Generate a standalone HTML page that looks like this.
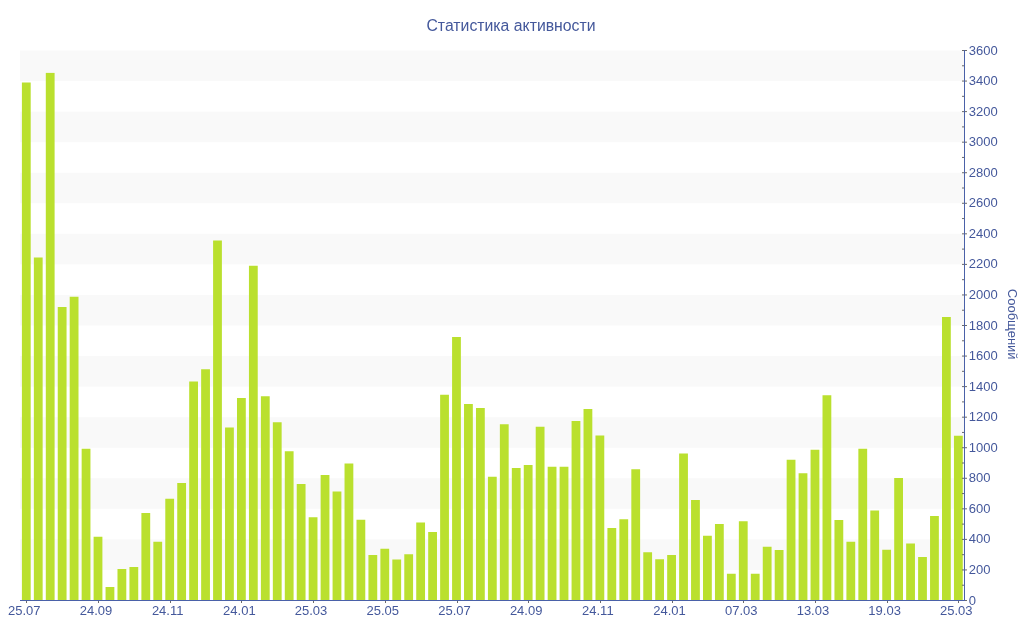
<!DOCTYPE html>
<html lang="ru"><head><meta charset="utf-8"><title>Статистика активности</title>
<style>html,body{margin:0;padding:0;background:#fff;}body{width:1024px;height:640px;overflow:hidden;}svg{display:block;}text{font-family:"Liberation Sans",sans-serif;fill:#44589b;}.t{font-size:15.8px;}.l{font-size:13px;}</style></head><body>
<svg width="1024" height="640" viewBox="0 0 1024 640">
<rect width="1024" height="640" fill="#fff"/>
<g fill="#f9f9f9">
<rect x="20" y="50.50" width="944" height="30.56"/>
<rect x="20" y="111.61" width="944" height="30.56"/>
<rect x="20" y="172.72" width="944" height="30.56"/>
<rect x="20" y="233.83" width="944" height="30.56"/>
<rect x="20" y="294.94" width="944" height="30.56"/>
<rect x="20" y="356.06" width="944" height="30.56"/>
<rect x="20" y="417.17" width="944" height="30.56"/>
<rect x="20" y="478.28" width="944" height="30.56"/>
<rect x="20" y="539.39" width="944" height="30.56"/>
</g>
<g fill="#bae02e">
<rect x="21.90" y="82.50" width="8.8" height="517.50"/>
<rect x="33.85" y="257.50" width="8.8" height="342.50"/>
<rect x="45.80" y="72.90" width="8.8" height="527.10"/>
<rect x="57.75" y="307.00" width="8.8" height="293.00"/>
<rect x="69.70" y="296.75" width="8.8" height="303.25"/>
<rect x="81.65" y="448.75" width="8.8" height="151.25"/>
<rect x="93.60" y="536.75" width="8.8" height="63.25"/>
<rect x="105.55" y="587.00" width="8.8" height="13.00"/>
<rect x="117.49" y="569.00" width="8.8" height="31.00"/>
<rect x="129.44" y="567.00" width="8.8" height="33.00"/>
<rect x="141.39" y="513.00" width="8.8" height="87.00"/>
<rect x="153.34" y="541.75" width="8.8" height="58.25"/>
<rect x="165.29" y="498.75" width="8.8" height="101.25"/>
<rect x="177.24" y="483.00" width="8.8" height="117.00"/>
<rect x="189.19" y="381.50" width="8.8" height="218.50"/>
<rect x="201.14" y="369.25" width="8.8" height="230.75"/>
<rect x="213.09" y="240.50" width="8.8" height="359.50"/>
<rect x="225.04" y="427.50" width="8.8" height="172.50"/>
<rect x="236.99" y="398.00" width="8.8" height="202.00"/>
<rect x="248.94" y="265.75" width="8.8" height="334.25"/>
<rect x="260.89" y="396.25" width="8.8" height="203.75"/>
<rect x="272.84" y="422.25" width="8.8" height="177.75"/>
<rect x="284.79" y="451.25" width="8.8" height="148.75"/>
<rect x="296.74" y="484.00" width="8.8" height="116.00"/>
<rect x="308.68" y="517.25" width="8.8" height="82.75"/>
<rect x="320.63" y="475.00" width="8.8" height="125.00"/>
<rect x="332.58" y="491.50" width="8.8" height="108.50"/>
<rect x="344.53" y="463.50" width="8.8" height="136.50"/>
<rect x="356.48" y="519.75" width="8.8" height="80.25"/>
<rect x="368.43" y="555.00" width="8.8" height="45.00"/>
<rect x="380.38" y="548.75" width="8.8" height="51.25"/>
<rect x="392.33" y="559.50" width="8.8" height="40.50"/>
<rect x="404.28" y="554.25" width="8.8" height="45.75"/>
<rect x="416.23" y="522.50" width="8.8" height="77.50"/>
<rect x="428.18" y="532.00" width="8.8" height="68.00"/>
<rect x="440.13" y="394.75" width="8.8" height="205.25"/>
<rect x="452.08" y="337.00" width="8.8" height="263.00"/>
<rect x="464.03" y="404.00" width="8.8" height="196.00"/>
<rect x="475.98" y="408.00" width="8.8" height="192.00"/>
<rect x="487.93" y="476.75" width="8.8" height="123.25"/>
<rect x="499.87" y="424.25" width="8.8" height="175.75"/>
<rect x="511.82" y="468.00" width="8.8" height="132.00"/>
<rect x="523.77" y="465.00" width="8.8" height="135.00"/>
<rect x="535.72" y="426.75" width="8.8" height="173.25"/>
<rect x="547.67" y="466.75" width="8.8" height="133.25"/>
<rect x="559.62" y="466.75" width="8.8" height="133.25"/>
<rect x="571.57" y="421.00" width="8.8" height="179.00"/>
<rect x="583.52" y="409.00" width="8.8" height="191.00"/>
<rect x="595.47" y="435.50" width="8.8" height="164.50"/>
<rect x="607.42" y="528.00" width="8.8" height="72.00"/>
<rect x="619.37" y="519.25" width="8.8" height="80.75"/>
<rect x="631.32" y="469.25" width="8.8" height="130.75"/>
<rect x="643.27" y="552.25" width="8.8" height="47.75"/>
<rect x="655.22" y="559.25" width="8.8" height="40.75"/>
<rect x="667.17" y="555.00" width="8.8" height="45.00"/>
<rect x="679.12" y="453.50" width="8.8" height="146.50"/>
<rect x="691.06" y="500.00" width="8.8" height="100.00"/>
<rect x="703.01" y="535.75" width="8.8" height="64.25"/>
<rect x="714.96" y="524.00" width="8.8" height="76.00"/>
<rect x="726.91" y="573.75" width="8.8" height="26.25"/>
<rect x="738.86" y="521.25" width="8.8" height="78.75"/>
<rect x="750.81" y="573.75" width="8.8" height="26.25"/>
<rect x="762.76" y="546.75" width="8.8" height="53.25"/>
<rect x="774.71" y="550.00" width="8.8" height="50.00"/>
<rect x="786.66" y="459.75" width="8.8" height="140.25"/>
<rect x="798.61" y="473.25" width="8.8" height="126.75"/>
<rect x="810.56" y="449.75" width="8.8" height="150.25"/>
<rect x="822.51" y="395.25" width="8.8" height="204.75"/>
<rect x="834.46" y="520.00" width="8.8" height="80.00"/>
<rect x="846.41" y="541.75" width="8.8" height="58.25"/>
<rect x="858.36" y="448.75" width="8.8" height="151.25"/>
<rect x="870.31" y="510.50" width="8.8" height="89.50"/>
<rect x="882.25" y="549.75" width="8.8" height="50.25"/>
<rect x="894.20" y="478.00" width="8.8" height="122.00"/>
<rect x="906.15" y="543.50" width="8.8" height="56.50"/>
<rect x="918.10" y="557.00" width="8.8" height="43.00"/>
<rect x="930.05" y="516.00" width="8.8" height="84.00"/>
<rect x="942.00" y="317.00" width="8.8" height="283.00"/>
<rect x="953.95" y="435.75" width="8.8" height="164.25"/>
</g>
<g fill="#6a6a6a">
<rect x="26.0" y="600" width="1" height="3"/>
<rect x="98.0" y="600" width="1" height="3"/>
<rect x="170.0" y="600" width="1" height="3"/>
<rect x="241.0" y="600" width="1" height="3"/>
<rect x="313.0" y="600" width="1" height="3"/>
<rect x="385.0" y="600" width="1" height="3"/>
<rect x="457.0" y="600" width="1" height="3"/>
<rect x="528.0" y="600" width="1" height="3"/>
<rect x="600.0" y="600" width="1" height="3"/>
<rect x="672.0" y="600" width="1" height="3"/>
<rect x="743.0" y="600" width="1" height="3"/>
<rect x="815.0" y="600" width="1" height="3"/>
<rect x="887.0" y="600" width="1" height="3"/>
<rect x="958.0" y="600" width="1" height="3"/>
<rect x="962" y="600.00" width="5" height="1"/>
<rect x="962" y="584.72" width="2" height="1"/>
<rect x="962" y="569.44" width="5" height="1"/>
<rect x="962" y="554.17" width="2" height="1"/>
<rect x="962" y="538.89" width="5" height="1"/>
<rect x="962" y="523.61" width="2" height="1"/>
<rect x="962" y="508.33" width="5" height="1"/>
<rect x="962" y="493.06" width="2" height="1"/>
<rect x="962" y="477.78" width="5" height="1"/>
<rect x="962" y="462.50" width="2" height="1"/>
<rect x="962" y="447.22" width="5" height="1"/>
<rect x="962" y="431.94" width="2" height="1"/>
<rect x="962" y="416.67" width="5" height="1"/>
<rect x="962" y="401.39" width="2" height="1"/>
<rect x="962" y="386.11" width="5" height="1"/>
<rect x="962" y="370.83" width="2" height="1"/>
<rect x="962" y="355.56" width="5" height="1"/>
<rect x="962" y="340.28" width="2" height="1"/>
<rect x="962" y="325.00" width="5" height="1"/>
<rect x="962" y="309.72" width="2" height="1"/>
<rect x="962" y="294.44" width="5" height="1"/>
<rect x="962" y="279.17" width="2" height="1"/>
<rect x="962" y="263.89" width="5" height="1"/>
<rect x="962" y="248.61" width="2" height="1"/>
<rect x="962" y="233.33" width="5" height="1"/>
<rect x="962" y="218.06" width="2" height="1"/>
<rect x="962" y="202.78" width="5" height="1"/>
<rect x="962" y="187.50" width="2" height="1"/>
<rect x="962" y="172.22" width="5" height="1"/>
<rect x="962" y="156.94" width="2" height="1"/>
<rect x="962" y="141.67" width="5" height="1"/>
<rect x="962" y="126.39" width="2" height="1"/>
<rect x="962" y="111.11" width="5" height="1"/>
<rect x="962" y="95.83" width="2" height="1"/>
<rect x="962" y="80.56" width="5" height="1"/>
<rect x="962" y="65.28" width="2" height="1"/>
<rect x="962" y="50.00" width="5" height="1"/>
</g>
<rect x="20" y="600" width="945" height="1" fill="#4a61a8"/>
<rect x="964" y="50" width="1" height="551" fill="#4a61a8"/>
<text class="t" x="511" y="30.6" text-anchor="middle">Статистика активности</text>
<text class="l" x="24.27" y="615.2" text-anchor="middle">25.07</text>
<text class="l" x="95.97" y="615.2" text-anchor="middle">24.09</text>
<text class="l" x="167.67" y="615.2" text-anchor="middle">24.11</text>
<text class="l" x="239.36" y="615.2" text-anchor="middle">24.01</text>
<text class="l" x="311.06" y="615.2" text-anchor="middle">25.03</text>
<text class="l" x="382.76" y="615.2" text-anchor="middle">25.05</text>
<text class="l" x="454.45" y="615.2" text-anchor="middle">25.07</text>
<text class="l" x="526.15" y="615.2" text-anchor="middle">24.09</text>
<text class="l" x="597.84" y="615.2" text-anchor="middle">24.11</text>
<text class="l" x="669.54" y="615.2" text-anchor="middle">24.01</text>
<text class="l" x="741.24" y="615.2" text-anchor="middle">07.03</text>
<text class="l" x="812.93" y="615.2" text-anchor="middle">13.03</text>
<text class="l" x="884.63" y="615.2" text-anchor="middle">19.03</text>
<text class="l" x="956.33" y="615.2" text-anchor="middle">25.03</text>
<text class="l" x="968.8" y="604.50">0</text>
<text class="l" x="968.8" y="573.94">200</text>
<text class="l" x="968.8" y="543.39">400</text>
<text class="l" x="968.8" y="512.83">600</text>
<text class="l" x="968.8" y="482.28">800</text>
<text class="l" x="968.8" y="451.72">1000</text>
<text class="l" x="968.8" y="421.17">1200</text>
<text class="l" x="968.8" y="390.61">1400</text>
<text class="l" x="968.8" y="360.06">1600</text>
<text class="l" x="968.8" y="329.50">1800</text>
<text class="l" x="968.8" y="298.94">2000</text>
<text class="l" x="968.8" y="268.39">2200</text>
<text class="l" x="968.8" y="237.83">2400</text>
<text class="l" x="968.8" y="207.28">2600</text>
<text class="l" x="968.8" y="176.72">2800</text>
<text class="l" x="968.8" y="146.17">3000</text>
<text class="l" x="968.8" y="115.61">3200</text>
<text class="l" x="968.8" y="85.06">3400</text>
<text class="l" x="968.8" y="54.50">3600</text>
<text class="l" transform="translate(1008.2 324.2) rotate(90)" text-anchor="middle">Сообщений</text>
</svg></body></html>
